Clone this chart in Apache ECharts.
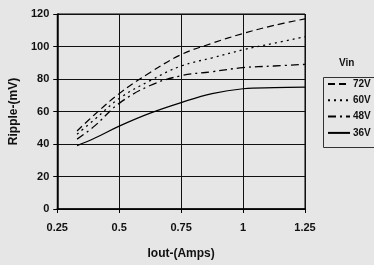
<!DOCTYPE html>
<html>
<head>
<meta charset="utf-8">
<script src="https://cdn.jsdelivr.net/npm/echarts@6/dist/echarts.min.js"></script>
<style>
  html, body { margin: 0; padding: 0; background: #e6e6e6; }
  #chart { width: 374px; height: 265px; }
</style>
</head>
<body>
<div id="chart"></div>
<script>
// Iout (Amps)
var iout = [0.33, 0.4, 0.5, 0.625, 0.75, 0.875, 1.0, 1.125, 1.25];
// ripple (mV) per input voltage
var v72 = [48, 58, 71, 84, 95, 102, 108, 113, 117];
var v60 = [46, 55, 68, 79, 88, 93, 98, 102, 106];
var v48 = [43, 51, 65, 76, 82, 84.5, 87, 88, 89];
var v36 = [39, 43.5, 51, 59, 65.5, 71, 74, 74.7, 75];
var seriesNames = ['72V', '60V', '48V', '36V'];

function pairs(ys) {
  return iout.map(function (x, i) { return [x, ys[i]]; });
}

var chart = echarts.init(document.getElementById('chart'));

var font = 'Liberation Sans, Arial, sans-serif';

function lineSeries(name, ys, dash, width) {
  return {
    name: name, type: 'line', data: pairs(ys), smooth: 0.4,
    symbol: 'none',
    lineStyle: { color: '#000', width: width, type: dash },
    itemStyle: { color: '#000' }
  };
}

var option = {
  backgroundColor: '#e6e6e6',
  animation: false,
  grid: {
    left: 56, right: 69, top: 14, bottom: 55,
    show: true, borderColor: '#000', borderWidth: 1
  },
  graphic: [
    {
      type: 'rect',
      shape: { x: 323.5, y: 77.5, width: 60, height: 70 },
      style: { fill: 'none', stroke: '#333', lineWidth: 1 }
    },
    {
      type: 'text',
      left: 339, top: 58,
      style: { text: 'Vin', font: 'bold 10px ' + font, fill: '#111' }
    }
  ],
  legend: {
    data: seriesNames,
    orient: 'vertical',
    left: 327, top: 79,
    itemWidth: 22, itemHeight: 12, itemGap: 6.3,
    padding: 0,
    itemStyle: { color: 'rgba(0,0,0,0)', borderWidth: 0, opacity: 0 },
    textStyle: { fontFamily: font, fontWeight: 'bold', fontSize: 10, color: '#111', padding: [0, 0, 0, -2] }
  },
  xAxis: {
    type: 'value',
    min: 0.25, max: 1.25, interval: 0.25,
    name: 'Iout-(Amps)',
    nameLocation: 'middle',
    nameGap: 39,
    nameTextStyle: { fontFamily: font, fontWeight: 'bold', fontSize: 12, color: '#111' },
    axisLine: { lineStyle: { color: '#000', width: 1.5 } },
    axisTick: { show: true, length: 4, lineStyle: { color: '#000' } },
    axisLabel: { fontFamily: font, fontWeight: 'bold', fontSize: 11, color: '#111', margin: 13 },
    splitLine: { show: true, lineStyle: { color: '#111', width: 1 } }
  },
  yAxis: {
    type: 'value',
    min: 0, max: 120, interval: 20,
    name: 'Ripple-(mV)',
    nameLocation: 'middle',
    nameGap: 36,
    nameTextStyle: { fontFamily: font, fontWeight: 'bold', fontSize: 12, color: '#111' },
    axisLine: { show: true, lineStyle: { color: '#000', width: 1.5 } },
    axisTick: { show: true, length: 4, lineStyle: { color: '#000' } },
    axisLabel: { fontFamily: font, fontWeight: 'bold', fontSize: 11, color: '#111', margin: 8 },
    splitLine: { show: true, lineStyle: { color: '#111', width: 1 } }
  },
  series: [
    lineSeries('72V', v72, [7, 4], 1.2),
    lineSeries('60V', v60, [2, 4], 1.3),
    lineSeries('48V', v48, [8, 4, 2, 4], 1.3),
    lineSeries('36V', v36, 'solid', 1.2)
  ]
};

chart.setOption(option);
</script>
</body>
</html>
